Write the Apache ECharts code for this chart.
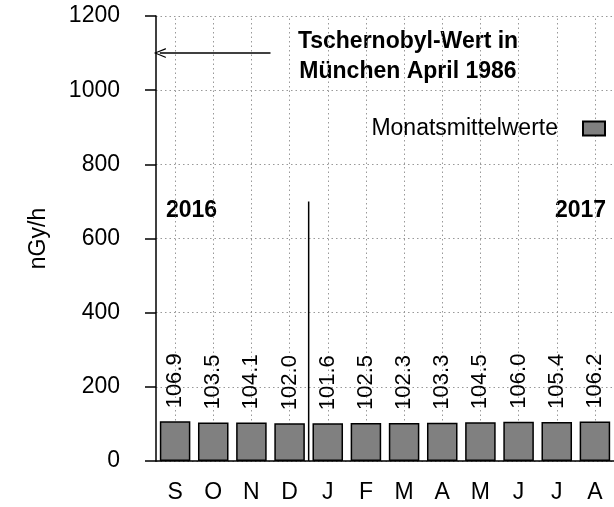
<!DOCTYPE html>
<html>
<head>
<meta charset="utf-8">
<script src="https://cdn.jsdelivr.net/npm/echarts@6/dist/echarts.min.js"></script>
<style>
  html, body { margin: 0; padding: 0; background: #fff; }
  #chart-container { width: 614px; height: 507px; }
</style>
</head>
<body>
<div id="chart-container"></div>
<script>
var months = ['S', 'O', 'N', 'D', 'J', 'F', 'M', 'A', 'M', 'J', 'J', 'A'];
var monthly = [106.9, 103.5, 104.1, 102.0, 101.6, 102.5, 102.3, 103.3, 104.5, 106.0, 105.4, 106.2];
var yTicks = [0, 200, 400, 600, 800, 1000, 1200];

// annotations, in data units (x is the category index)
var tschernobyl = 1100;
var arrowFrom = 2.5;
var arrowTo = -0.4;
var yearSplit = 3.5;
var yearSplitTop = 700;

var dom = document.getElementById('chart-container');
var myChart = echarts.init(dom, null, { renderer: 'canvas' });

var font = 'Liberation Sans, Arial, sans-serif';
var grid = { type: [1.5, 3], color: '#999', width: 1 };

var option = {
  animation: false,
  textStyle: { fontFamily: font, color: '#000' },
  grid: { left: 156, right: -5.6, top: 16, bottom: 46 },
  legend: {
    data: [{ name: 'Monatsmittelwerte', icon: 'rect' }],
    right: 3,
    top: 112,
    align: 'right',
    itemWidth: 22,
    itemHeight: 14,
    textStyle: { fontSize: 23, color: '#000', fontFamily: font, padding: [0, 20, 0, 0] }
  },
  xAxis: [
    {
      type: 'category',
      data: months,
      axisLine: { lineStyle: { color: '#000', width: 1.5 } },
      axisTick: { alignWithLabel: true, length: 9, lineStyle: { color: '#000', width: 1.5 } },
      axisLabel: { fontSize: 23, color: '#000', margin: 20 },
      splitLine: { show: false }
    },
    {
      type: 'value',
      min: -0.5,
      max: months.length - 0.5,
      show: false
    }
  ],
  yAxis: {
    type: 'value',
    min: yTicks[0],
    max: yTicks[yTicks.length - 1],
    interval: 200,
    name: 'nGy/h',
    nameLocation: 'middle',
    nameGap: 106,
    nameTextStyle: { fontSize: 23, color: '#000' },
    axisLine: { show: true, onZero: false, lineStyle: { color: '#000', width: 1.5 } },
    axisTick: { show: true, length: 11, lineStyle: { color: '#000', width: 1.5 } },
    axisLabel: {
      fontSize: 23, color: '#000', margin: 36,
      formatter: function (v) { return String(v); }
    },
    splitLine: { show: true, lineStyle: grid }
  },
  series: [
    {
      name: 'Monatsmittelwerte',
      type: 'bar',
      data: monthly,
      barCategoryGap: '20%',
      itemStyle: { color: '#808080', borderColor: '#000', borderWidth: 1.5 },
      label: {
        show: true,
        position: 'top',
        rotate: 90,
        align: 'left',
        verticalAlign: 'middle',
        distance: 13,
        fontSize: 22,
        color: '#000',
        formatter: function (p) { return p.value.toFixed(1); }
      },
      markLine: {
        silent: true,
        z: 1,
        symbol: 'none',
        label: { show: false },
        lineStyle: grid,
        data: months.map(function (m, i) { return { xAxis: i }; })
      }
    },
    {
      type: 'line',
      xAxisIndex: 1,
      data: [[yearSplit, 0], [yearSplit, yearSplitTop]],
      symbol: 'none',
      lineStyle: { color: '#000', width: 1.5 },
      silent: true,
      markLine: {
        silent: true,
        symbol: ['none', 'path://M5,0 L10,10 L8.6,10 L5,2.2 L1.4,10 L0,10 Z'],
        symbolSize: [10, 12],
        label: { show: false },
        lineStyle: { color: '#000', width: 1.5, type: 'solid' },
        data: [[{ coord: [arrowFrom, tschernobyl] }, { coord: [arrowTo, tschernobyl] }]]
      }
    }
  ],
  graphic: [
    {
      type: 'text', position: [408, 27],
      style: {
        text: 'Tschernobyl-Wert in\nMünchen April 1986',
        font: 'bold 23px ' + font, fill: '#000',
        textAlign: 'center', lineHeight: 30
      }
    },
    {
      type: 'text', position: [166, 211],
      style: { text: '2016', font: 'bold 23px ' + font, fill: '#000', textVerticalAlign: 'middle' }
    },
    {
      type: 'text', position: [555, 211],
      style: { text: '2017', font: 'bold 23px ' + font, fill: '#000', textVerticalAlign: 'middle' }
    }
  ]
};

myChart.setOption(option);
window.addEventListener('resize', myChart.resize);
</script>
</body>
</html>
